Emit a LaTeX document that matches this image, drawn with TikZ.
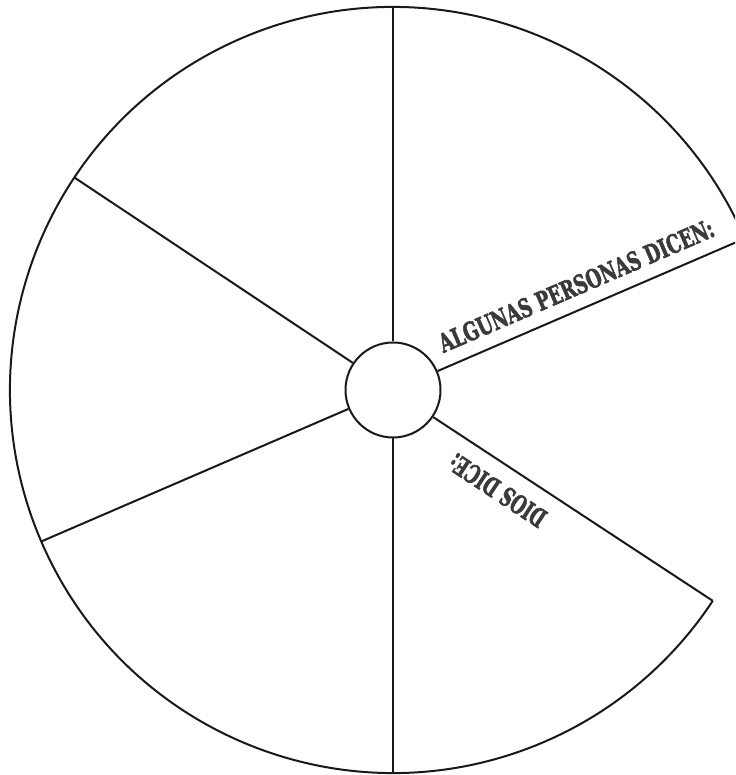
\documentclass[tikz,border=0pt]{standalone}
\usepackage{fontspec}
\usetikzlibrary{calc}
\newfontfamily\labelfont[FakeBold=2.5]{DejaVu Serif}
\definecolor{inkgray}{HTML}{3A3A3A}
\begin{document}
\begin{tikzpicture}[x=1pt,y=1pt,
  wheel/.style={line width=2pt, draw=black!90},
  lbl/.style={inner sep=0pt, outer sep=0pt, text=inkgray, font=\labelfont\bfseries}]
\clip (0,0) rectangle (735,775);
\coordinate (c) at (393,385);
\node[wheel, circle, minimum size=95pt, inner sep=0pt] (hub) at (c) {};
\foreach \a/\n in {90/n, 146.3/nw, 203.3/sw, 270/s, 326.6/se, 23.3/ne}
  \coordinate (e\n) at ($(c)+(\a:383)$);
\draw[wheel] (hub.90) -- (en);
\draw[wheel] (hub.146.3) -- (enw);
\draw[wheel] (hub.203.3) -- (esw);
\draw[wheel] (hub.270) -- (es);
\draw[wheel] (hub.326.6) -- (ese);
\draw[wheel] (hub.23.3) -- (ene);
\draw[wheel] (ene) arc[start angle=23.3, end angle=326.6, radius=383];
\node[lbl, rotate=23.3, anchor=base west] (t1) at ($(c)+(23.3:61)+(113.3:14)$)
  {\resizebox{297pt}{19pt}{ALGUNAS PERSONAS DICEN:}};
\node[lbl, rotate=146.6, anchor=base west] (t2) at ($(c)+(-33.4:198)+(236.6:17)$)
  {\resizebox{111pt}{19pt}{DIOS DICE:}};
\end{tikzpicture}
\end{document}
